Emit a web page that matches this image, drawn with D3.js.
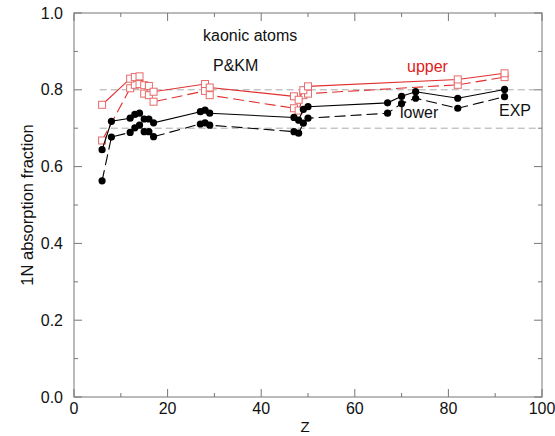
<!DOCTYPE html>
<html>
<head>
<meta charset="utf-8">
<script src="https://cdn.jsdelivr.net/npm/d3@7"></script>
<style>
  body { margin: 0; background: #fff; }
  text { font-family: "Liberation Sans", Arial, sans-serif; }
</style>
</head>
<body>
<svg id="chart" width="555" height="436"></svg>
<script>
// Z values of the measured atoms
const zLower = [6, 8, 12, 13, 14, 15, 16, 17, 27, 28, 29, 47, 48, 49, 50, 67, 70, 73, 82, 92];
const zUpper = [6, 12, 13, 14, 15, 16, 17, 28, 29, 47, 48, 49, 50, 82, 92];

// black series (lower), solid and dashed
const lowerSolid = [0.644, 0.718, 0.726, 0.736, 0.739, 0.724, 0.724, 0.714, 0.743, 0.747, 0.739,
                    0.728, 0.721, 0.749, 0.756, 0.766, 0.783, 0.795, 0.778, 0.801];
const lowerDashed = [0.563, 0.677, 0.689, 0.701, 0.708, 0.691, 0.691, 0.678, 0.711, 0.714, 0.708,
                     0.691, 0.687, 0.713, 0.726, 0.739, 0.764, 0.778, 0.752, 0.782];

// red series (upper), solid and dashed
const upperSolid = [0.761, 0.829, 0.833, 0.835, 0.812, 0.810, 0.795, 0.815, 0.806,
                    0.783, 0.774, 0.799, 0.809, 0.827, 0.843];
const upperDashed = [0.668, 0.804, 0.813, 0.815, 0.790, 0.786, 0.769, 0.797, 0.786,
                     0.752, 0.746, 0.786, 0.790, 0.813, 0.833];

// reference levels drawn as grey dashed lines
const refLevels = [0.8, 0.7];
const refRange = [5.5, 99];

const xTicks = [0, 20, 40, 60, 80, 100];
const yTicks = [0.0, 0.2, 0.4, 0.6, 0.8, 1.0];

const margin = { left: 74, right: 13, top: 13, bottom: 39 };
const width = 555, height = 436;

const svg = d3.select("#chart");

const x = d3.scaleLinear().domain([0, 100]).range([margin.left, width - margin.right]);
const y = d3.scaleLinear().domain([0, 1]).range([height - margin.bottom, margin.top]);

const frameColor = "#777";

// frame and inside ticks
svg.append("rect")
   .attr("x", x(0)).attr("y", y(1))
   .attr("width", x(100) - x(0)).attr("height", y(0) - y(1))
   .style("fill", "none").style("stroke", frameColor).style("stroke-width", 1);

const tickG = svg.append("g").style("stroke", frameColor).style("stroke-width", 1);
d3.range(0, 101, 10).forEach(v => {
    const len = v % 20 === 0 ? 8 : 4;
    tickG.append("line").attr("x1", x(v)).attr("x2", x(v)).attr("y1", y(0)).attr("y2", y(0) - len);
    tickG.append("line").attr("x1", x(v)).attr("x2", x(v)).attr("y1", y(1)).attr("y2", y(1) + len);
});
d3.range(0, 11).forEach(i => {
    const v = i / 10;
    const len = i % 2 === 0 ? 8 : 4;
    tickG.append("line").attr("x1", x(0)).attr("x2", x(0) + len).attr("y1", y(v)).attr("y2", y(v));
    tickG.append("line").attr("x1", x(100)).attr("x2", x(100) - len).attr("y1", y(v)).attr("y2", y(v));
});

// tick labels
svg.append("g").selectAll("text")
   .data(xTicks).join("text")
   .attr("x", d => x(d)).attr("y", y(0) + 17)
   .attr("text-anchor", "middle")
   .style("font-size", "16px").style("fill", "#111")
   .text(d => d);
svg.append("g").selectAll("text")
   .data(yTicks).join("text")
   .attr("x", x(0) - 11).attr("y", d => y(d))
   .attr("text-anchor", "end").attr("dominant-baseline", "central")
   .style("font-size", "16px").style("fill", "#111")
   .text(d => d3.format(".1f")(d));

// axis titles - Z kept just inside the bottom edge
svg.append("text")
   .attr("transform", `translate(27, ${(y(0) + y(1)) / 2}) rotate(-90)`)
   .attr("text-anchor", "middle").attr("dominant-baseline", "central")
   .style("font-size", "16.5px").style("fill", "#111")
   .text("1N absorption fraction");
svg.append("text")
   .attr("x", (x(0) + x(100)) / 2 - 3).attr("y", height - 4)
   .attr("text-anchor", "middle")
   .style("font-size", "15px").style("fill", "#111")
   .text("Z");

// grey reference lines
svg.append("g").selectAll("line")
   .data(refLevels).join("line")
   .attr("x1", x(refRange[0])).attr("x2", x(refRange[1]))
   .attr("y1", d => y(d)).attr("y2", d => y(d))
   .style("stroke", "#aaa").style("stroke-width", 1).style("stroke-dasharray", "7,4");

const line = d3.line().x(d => x(d[0])).y(d => y(d[1]));
const pairs = (zs, vs) => zs.map((z, i) => [z, vs[i]]);

function drawSeries(zs, vs, color, dash, marker) {
    const pts = pairs(zs, vs);
    svg.append("path")
       .datum(pts)
       .attr("d", line)
       .style("fill", "none").style("stroke", color).style("stroke-width", 1.1)
       .style("stroke-dasharray", dash);
    const g = svg.append("g");
    if (marker === "dot") {
        g.selectAll("circle").data(pts).join("circle")
         .attr("cx", d => x(d[0])).attr("cy", d => y(d[1])).attr("r", 3.6)
         .style("fill", "#000");
    } else {
        g.selectAll("rect").data(pts).join("rect")
         .attr("x", d => x(d[0]) - 3.5).attr("y", d => y(d[1]) - 3.5)
         .attr("width", 7).attr("height", 7)
         .style("fill", "#fff").style("stroke", "#e86a6a").style("stroke-width", 1);
    }
}

drawSeries(zUpper, upperDashed, "#e23030", "11,5", "square");
drawSeries(zUpper, upperSolid, "#e23030", null, "square");
drawSeries(zLower, lowerDashed, "#000", "11,5", "dot");
drawSeries(zLower, lowerSolid, "#000", null, "dot");

// annotations
const notes = [
    { t: "kaonic atoms", x: 203, y: 41, c: "#111" },
    { t: "P&KM", x: 213, y: 71, c: "#111" },
    { t: "upper", x: 407, y: 72, c: "#e02020" },
    { t: "lower", x: 400, y: 118, c: "#111" },
    { t: "EXP", x: 499, y: 116, c: "#111" }
];
svg.append("g").selectAll("text")
   .data(notes).join("text")
   .attr("x", d => d.x).attr("y", d => d.y)
   .style("font-size", "16px").style("fill", d => d.c)
   .text(d => d.t);
</script>
</body>
</html>
